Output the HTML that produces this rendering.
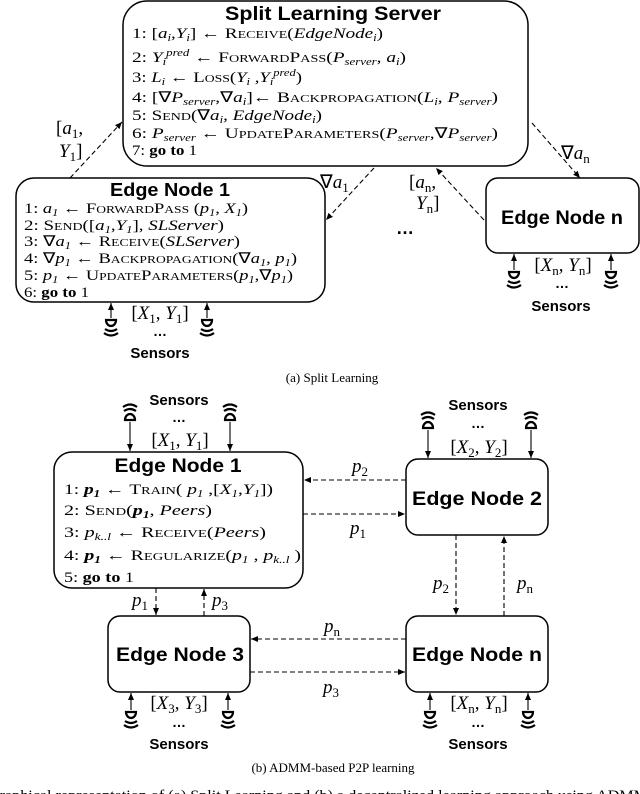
<!DOCTYPE html>
<html><head><meta charset="utf-8"><style>
html,body{margin:0;padding:0;background:#fff;}
svg{display:block;}
.t{font-family:"Liberation Serif",serif;font-size:15px;fill:#000;}
.t.L{font-size:19px;}
.t.c{font-size:13px;}
.t.f{font-size:15px;}
.h{font-family:"Liberation Sans",sans-serif;font-weight:bold;fill:#000;}
.sc{font-variant:small-caps;}
.i{font-style:italic;}
.box{fill:#fff;stroke:#000;stroke-width:1.5;}
.d{stroke:#000;stroke-width:1.1;stroke-dasharray:5,3;fill:none;}
.s{stroke:#000;stroke-width:1.1;fill:none;}
</style></head><body>
<svg width="640" height="794" viewBox="0 0 640 794" xmlns="http://www.w3.org/2000/svg">
<defs>
<marker id="ar" markerWidth="8" markerHeight="8" refX="7" refY="4" orient="auto" markerUnits="userSpaceOnUse"><path d="M0,1 L7,4 L0,7 z" fill="#000"/></marker>
<g id="sd"><path d="M-5,0 L5,0 A5,6 0 0 1 -5,0 z" fill="none" stroke="#000" stroke-width="2.2"/><path d="M-6,9 Q0,13 6,9" stroke="#000" stroke-width="2.2" fill="none"/><path d="M-7,13 Q0,18 7,13" stroke="#000" stroke-width="2.2" fill="none"/></g>
<g id="su"><path d="M-5,0 L5,0 A5,6 0 0 0 -5,0 z" fill="none" stroke="#000" stroke-width="2.2"/><path d="M-6,-9 Q0,-13 6,-9" stroke="#000" stroke-width="2.2" fill="none"/><path d="M-7,-13 Q0,-18 7,-13" stroke="#000" stroke-width="2.2" fill="none"/></g>
</defs>

<!-- ===== (a) ===== -->
<rect class="box" x="123" y="1" width="405" height="165" rx="24"/>
<text class="h" x="333" y="20" font-size="19" text-anchor="middle" textLength="216" lengthAdjust="spacingAndGlyphs">Split Learning Server</text>
<text class="t" x="132" y="38" textLength="251" lengthAdjust="spacingAndGlyphs">1: [<tspan class="i">a<tspan font-size="10" dy="3">i</tspan></tspan><tspan dy="-3">,</tspan><tspan class="i">Y<tspan font-size="10" dy="3">i</tspan></tspan><tspan dy="-3">] ← </tspan><tspan class="sc">Receive</tspan>(<tspan class="i">EdgeNode<tspan font-size="10" dy="3">i</tspan></tspan><tspan dy="-3">)</tspan></text>
<text class="t" x="132" y="62" textLength="274" lengthAdjust="spacingAndGlyphs">2: <tspan class="i">Y<tspan font-size="10" dy="3">i</tspan><tspan font-size="10" dy="-9">pred</tspan></tspan><tspan dy="6"> ← </tspan><tspan class="sc">ForwardPass</tspan>(<tspan class="i">P<tspan font-size="10" dy="3">server</tspan></tspan><tspan dy="-3">, </tspan><tspan class="i">a<tspan font-size="10" dy="3">i</tspan></tspan><tspan dy="-3">)</tspan></text>
<text class="t" x="132" y="82" textLength="170" lengthAdjust="spacingAndGlyphs">3: <tspan class="i">L<tspan font-size="10" dy="3">i</tspan></tspan><tspan dy="-3"> ← </tspan><tspan class="sc">Loss</tspan>(<tspan class="i">Y<tspan font-size="10" dy="3">i</tspan></tspan><tspan dy="-3"> ,</tspan><tspan class="i">Y<tspan font-size="10" dy="3">i</tspan><tspan font-size="10" dy="-9">pred</tspan></tspan><tspan dy="6">)</tspan></text>
<text class="t" x="132" y="102" textLength="366" lengthAdjust="spacingAndGlyphs">4: [∇<tspan class="i">P<tspan font-size="10" dy="3">server</tspan></tspan><tspan dy="-3">,∇</tspan><tspan class="i">a<tspan font-size="10" dy="3">i</tspan></tspan><tspan dy="-3">]← </tspan><tspan class="sc">Backpropagation</tspan>(<tspan class="i">L<tspan font-size="10" dy="3">i</tspan></tspan><tspan dy="-3">, </tspan><tspan class="i">P<tspan font-size="10" dy="3">server</tspan></tspan><tspan dy="-3">)</tspan></text>
<text class="t" x="132" y="120" textLength="190" lengthAdjust="spacingAndGlyphs">5: <tspan class="sc">Send</tspan>(∇<tspan class="i">a<tspan font-size="10" dy="3">i</tspan></tspan><tspan dy="-3">, </tspan><tspan class="i">EdgeNode<tspan font-size="10" dy="3">i</tspan></tspan><tspan dy="-3">)</tspan></text>
<text class="t" x="132" y="138" textLength="366" lengthAdjust="spacingAndGlyphs">6: <tspan class="i">P<tspan font-size="10" dy="3">server</tspan></tspan><tspan dy="-3"> ← </tspan><tspan class="sc">UpdateParameters</tspan>(<tspan class="i">P<tspan font-size="10" dy="3">server</tspan></tspan><tspan dy="-3">,∇</tspan><tspan class="i">P<tspan font-size="10" dy="3">server</tspan></tspan><tspan dy="-3">)</tspan></text>
<text class="t" x="132" y="155" textLength="65" lengthAdjust="spacingAndGlyphs">7: <tspan font-weight="bold">go to</tspan> 1</text>

<rect class="box" x="16" y="178" width="309" height="124" rx="18"/>
<text class="h" x="170" y="196" font-size="18" text-anchor="middle" textLength="120" lengthAdjust="spacingAndGlyphs">Edge Node 1</text>
<text class="t" x="24" y="213" textLength="224" lengthAdjust="spacingAndGlyphs">1: <tspan class="i">a<tspan font-size="10" dy="3">1</tspan></tspan><tspan dy="-3"> ← </tspan><tspan class="sc">ForwardPass</tspan> (<tspan class="i">p<tspan font-size="10" dy="3">1</tspan></tspan><tspan dy="-3">, </tspan><tspan class="i">X<tspan font-size="10" dy="3">1</tspan></tspan><tspan dy="-3">)</tspan></text>
<text class="t" x="24" y="230" textLength="200" lengthAdjust="spacingAndGlyphs">2: <tspan class="sc">Send</tspan>([<tspan class="i">a<tspan font-size="10" dy="3">1</tspan></tspan><tspan dy="-3">,</tspan><tspan class="i">Y<tspan font-size="10" dy="3">1</tspan></tspan><tspan dy="-3">], </tspan><tspan class="i">SLServer</tspan>)</text>
<text class="t" x="24" y="246" textLength="216" lengthAdjust="spacingAndGlyphs">3: ∇<tspan class="i">a<tspan font-size="10" dy="3">1</tspan></tspan><tspan dy="-3"> ← </tspan><tspan class="sc">Receive</tspan>(<tspan class="i">SLServer</tspan>)</text>
<text class="t" x="24" y="263" textLength="273" lengthAdjust="spacingAndGlyphs">4: ∇<tspan class="i">p<tspan font-size="10" dy="3">1</tspan></tspan><tspan dy="-3"> ← </tspan><tspan class="sc">Backpropagation</tspan>(∇<tspan class="i">a<tspan font-size="10" dy="3">1</tspan></tspan><tspan dy="-3">, </tspan><tspan class="i">p<tspan font-size="10" dy="3">1</tspan></tspan><tspan dy="-3">)</tspan></text>
<text class="t" x="24" y="280" textLength="269" lengthAdjust="spacingAndGlyphs">5: <tspan class="i">p<tspan font-size="10" dy="3">1</tspan></tspan><tspan dy="-3"> ← </tspan><tspan class="sc">UpdateParameters</tspan>(<tspan class="i">p<tspan font-size="10" dy="3">1</tspan></tspan><tspan dy="-3">,∇</tspan><tspan class="i">p<tspan font-size="10" dy="3">1</tspan></tspan><tspan dy="-3">)</tspan></text>
<text class="t" x="24" y="297" textLength="65" lengthAdjust="spacingAndGlyphs">6: <tspan font-weight="bold">go to</tspan> 1</text>

<rect class="box" x="486" y="178" width="153" height="75" rx="12"/>
<text class="h" x="562" y="224" font-size="19" text-anchor="middle" textLength="122" lengthAdjust="spacingAndGlyphs">Edge Node n</text>

<!-- connectors (a) -->
<line class="d" x1="70" y1="178" x2="122" y2="122" marker-end="url(#ar)"/>
<text class="t L" x="56" y="134"><tspan>[</tspan><tspan class="i">a</tspan><tspan font-size="13" dy="4">1</tspan><tspan dy="-4">,</tspan></text>
<text class="t L" x="59" y="157"><tspan class="i">Y</tspan><tspan font-size="13" dy="4">1</tspan><tspan dy="-4">]</tspan></text>
<line class="d" x1="374" y1="168" x2="326" y2="220" marker-end="url(#ar)"/>
<text class="t L" x="320" y="188">∇<tspan class="i">a</tspan><tspan font-size="13" dy="4">1</tspan></text>
<line class="d" x1="484" y1="220" x2="436" y2="168" marker-end="url(#ar)"/>
<text class="t L" x="409" y="188">[<tspan class="i">a</tspan><tspan font-size="13" dy="4">n</tspan><tspan dy="-4">,</tspan></text>
<text class="t L" x="416" y="209"><tspan class="i">Y</tspan><tspan font-size="13" dy="4">n</tspan><tspan dy="-4">]</tspan></text>
<line class="d" x1="532" y1="123" x2="580" y2="178" marker-end="url(#ar)"/>
<text class="t L" x="561" y="159">∇<tspan class="i">a</tspan><tspan font-size="13" dy="4">n</tspan></text>
<text class="h" x="405" y="234" font-size="18" text-anchor="middle">…</text>

<!-- sensors EN1 (a) -->
<line class="s" x1="111" y1="318" x2="111" y2="303" marker-end="url(#ar)"/>
<line class="s" x1="207" y1="318" x2="207" y2="303" marker-end="url(#ar)"/>
<use href="#sd" x="111" y="320"/><use href="#sd" x="207" y="320"/>
<text class="t L" x="160" y="319" text-anchor="middle">[<tspan class="i">X</tspan><tspan font-size="13" dy="4">1</tspan><tspan dy="-4">, </tspan><tspan class="i">Y</tspan><tspan font-size="13" dy="4">1</tspan><tspan dy="-4">]</tspan></text>
<text class="h" x="160" y="336" font-size="14" text-anchor="middle">…</text>
<text class="h" x="160" y="358" font-size="15" text-anchor="middle">Sensors</text>
<!-- sensors ENn (a) -->
<line class="s" x1="514" y1="270" x2="514" y2="254" marker-end="url(#ar)"/>
<line class="s" x1="611" y1="270" x2="611" y2="254" marker-end="url(#ar)"/>
<use href="#sd" x="514" y="272"/><use href="#sd" x="611" y="272"/>
<text class="t L" x="563" y="271" text-anchor="middle">[<tspan class="i">X</tspan><tspan font-size="13" dy="4">n</tspan><tspan dy="-4">, </tspan><tspan class="i">Y</tspan><tspan font-size="13" dy="4">n</tspan><tspan dy="-4">]</tspan></text>
<text class="h" x="562" y="288" font-size="14" text-anchor="middle">…</text>
<text class="h" x="561" y="311" font-size="15" text-anchor="middle">Sensors</text>

<text class="t c" x="332" y="382" text-anchor="middle">(a) Split Learning</text>

<!-- ===== (b) ===== -->
<text class="h" x="179" y="405" font-size="15" text-anchor="middle">Sensors</text>
<use href="#su" x="130" y="420"/><use href="#su" x="230" y="420"/>
<line class="s" x1="130" y1="422" x2="130" y2="451" marker-end="url(#ar)"/>
<line class="s" x1="230" y1="422" x2="230" y2="451" marker-end="url(#ar)"/>
<text class="h" x="179" y="422" font-size="14" text-anchor="middle">…</text>
<text class="t L" x="180" y="446" text-anchor="middle">[<tspan class="i">X</tspan><tspan font-size="13" dy="4">1</tspan><tspan dy="-4">, </tspan><tspan class="i">Y</tspan><tspan font-size="13" dy="4">1</tspan><tspan dy="-4">]</tspan></text>

<rect class="box" x="54" y="452" width="249" height="136" rx="18"/>
<text class="h" x="178" y="472" font-size="19" text-anchor="middle" textLength="127" lengthAdjust="spacingAndGlyphs">Edge Node 1</text>
<text class="t" x="64" y="494" textLength="209" lengthAdjust="spacingAndGlyphs">1: <tspan class="i" font-weight="bold">p<tspan font-size="10" dy="3">1</tspan></tspan><tspan dy="-3"> ← </tspan><tspan class="sc">Train</tspan>( <tspan class="i">p<tspan font-size="10" dy="3">1</tspan></tspan><tspan dy="-3"> ,[</tspan><tspan class="i">X<tspan font-size="10" dy="3">1</tspan></tspan><tspan dy="-3">,</tspan><tspan class="i">Y<tspan font-size="10" dy="3">1</tspan></tspan><tspan dy="-3">])</tspan></text>
<text class="t" x="64" y="515" textLength="148" lengthAdjust="spacingAndGlyphs">2: <tspan class="sc">Send</tspan>(<tspan class="i" font-weight="bold">p<tspan font-size="10" dy="3">1</tspan></tspan><tspan dy="-3">, </tspan><tspan class="i">Peers</tspan>)</text>
<text class="t" x="64" y="537" textLength="202" lengthAdjust="spacingAndGlyphs">3: <tspan class="i">p<tspan font-size="10" dy="3">k..l</tspan></tspan><tspan dy="-3"> ← </tspan><tspan class="sc">Receive</tspan>(<tspan class="i">Peers</tspan>)</text>
<text class="t" x="64" y="560" textLength="237" lengthAdjust="spacingAndGlyphs">4: <tspan class="i" font-weight="bold">p<tspan font-size="10" dy="3">1</tspan></tspan><tspan dy="-3"> ← </tspan><tspan class="sc">Regularize</tspan>(<tspan class="i">p<tspan font-size="10" dy="3">1</tspan></tspan><tspan dy="-3"> , </tspan><tspan class="i">p<tspan font-size="10" dy="3">k..l</tspan></tspan><tspan dy="-3"> )</tspan></text>
<text class="t" x="64" y="582" textLength="70" lengthAdjust="spacingAndGlyphs">5: <tspan font-weight="bold">go to</tspan> 1</text>

<text class="h" x="478" y="410" font-size="15" text-anchor="middle">Sensors</text>
<use href="#su" x="428" y="428"/><use href="#su" x="531" y="428"/>
<line class="s" x1="428" y1="430" x2="428" y2="458" marker-end="url(#ar)"/>
<line class="s" x1="531" y1="430" x2="531" y2="458" marker-end="url(#ar)"/>
<text class="h" x="478" y="428" font-size="14" text-anchor="middle">…</text>
<text class="t L" x="479" y="453" text-anchor="middle">[<tspan class="i">X</tspan><tspan font-size="13" dy="4">2</tspan><tspan dy="-4">, </tspan><tspan class="i">Y</tspan><tspan font-size="13" dy="4">2</tspan><tspan dy="-4">]</tspan></text>

<rect class="box" x="406" y="459" width="142" height="76" rx="12"/>
<text class="h" x="477" y="505" font-size="19" text-anchor="middle" textLength="130" lengthAdjust="spacingAndGlyphs">Edge Node 2</text>

<rect class="box" x="108" y="616" width="142" height="76" rx="12"/>
<text class="h" x="180" y="661" font-size="19" text-anchor="middle" textLength="128" lengthAdjust="spacingAndGlyphs">Edge Node 3</text>
<rect class="box" x="406" y="616" width="142" height="76" rx="12"/>
<text class="h" x="477" y="661" font-size="19" text-anchor="middle" textLength="130" lengthAdjust="spacingAndGlyphs">Edge Node n</text>

<!-- connectors (b) -->
<line class="d" x1="406" y1="480" x2="304" y2="480" marker-end="url(#ar)"/>
<text class="t L" x="360" y="472" text-anchor="middle"><tspan class="i">p</tspan><tspan font-size="13" dy="4">2</tspan></text>
<line class="d" x1="303" y1="514" x2="405" y2="514" marker-end="url(#ar)" stroke-width="1.6"/>
<text class="t L" x="358" y="534" text-anchor="middle"><tspan class="i">p</tspan><tspan font-size="13" dy="4">1</tspan></text>
<line class="d" x1="456" y1="535" x2="456" y2="615" marker-end="url(#ar)"/>
<line class="d" x1="504" y1="616" x2="504" y2="536" marker-end="url(#ar)"/>
<text class="t L" x="441" y="589" text-anchor="middle"><tspan class="i">p</tspan><tspan font-size="13" dy="4">2</tspan></text>
<text class="t L" x="525" y="589" text-anchor="middle"><tspan class="i">p</tspan><tspan font-size="13" dy="4">n</tspan></text>
<line class="d" x1="156" y1="588" x2="156" y2="615" marker-end="url(#ar)"/>
<line class="d" x1="204" y1="616" x2="204" y2="589" marker-end="url(#ar)"/>
<text class="t L" x="140" y="606" text-anchor="middle"><tspan class="i">p</tspan><tspan font-size="13" dy="4">1</tspan></text>
<text class="t L" x="220" y="606" text-anchor="middle"><tspan class="i">p</tspan><tspan font-size="13" dy="4">3</tspan></text>
<line class="d" x1="406" y1="639" x2="251" y2="639" marker-end="url(#ar)"/>
<text class="t L" x="332" y="632" text-anchor="middle"><tspan class="i">p</tspan><tspan font-size="13" dy="4">n</tspan></text>
<line class="d" x1="250" y1="672" x2="405" y2="672" marker-end="url(#ar)" stroke-width="1.6"/>
<text class="t L" x="331" y="693" text-anchor="middle"><tspan class="i">p</tspan><tspan font-size="13" dy="4">3</tspan></text>

<!-- bottom sensors -->
<line class="s" x1="131" y1="710" x2="131" y2="693" marker-end="url(#ar)"/>
<line class="s" x1="228" y1="710" x2="228" y2="693" marker-end="url(#ar)"/>
<use href="#sd" x="131" y="712"/><use href="#sd" x="228" y="712"/>
<text class="t L" x="179" y="709" text-anchor="middle">[<tspan class="i">X</tspan><tspan font-size="13" dy="4">3</tspan><tspan dy="-4">, </tspan><tspan class="i">Y</tspan><tspan font-size="13" dy="4">3</tspan><tspan dy="-4">]</tspan></text>
<text class="h" x="179" y="727" font-size="14" text-anchor="middle">…</text>
<text class="h" x="179" y="749" font-size="15" text-anchor="middle">Sensors</text>

<line class="s" x1="430" y1="710" x2="430" y2="693" marker-end="url(#ar)"/>
<line class="s" x1="528" y1="710" x2="528" y2="693" marker-end="url(#ar)"/>
<use href="#sd" x="430" y="712"/><use href="#sd" x="528" y="712"/>
<text class="t L" x="479" y="709" text-anchor="middle">[<tspan class="i">X</tspan><tspan font-size="13" dy="4">n</tspan><tspan dy="-4">, </tspan><tspan class="i">Y</tspan><tspan font-size="13" dy="4">n</tspan><tspan dy="-4">]</tspan></text>
<text class="h" x="478" y="727" font-size="14" text-anchor="middle">…</text>
<text class="h" x="478" y="749" font-size="15" text-anchor="middle">Sensors</text>

<text class="t c" x="333" y="772" text-anchor="middle">(b) ADMM-based P2P learning</text>
<text class="t f" x="-12" y="800" textLength="660" lengthAdjust="spacingAndGlyphs">Graphical representation of (a) Split Learning and (b) a decentralized learning approach using ADMM</text>
</svg>
</body></html>
